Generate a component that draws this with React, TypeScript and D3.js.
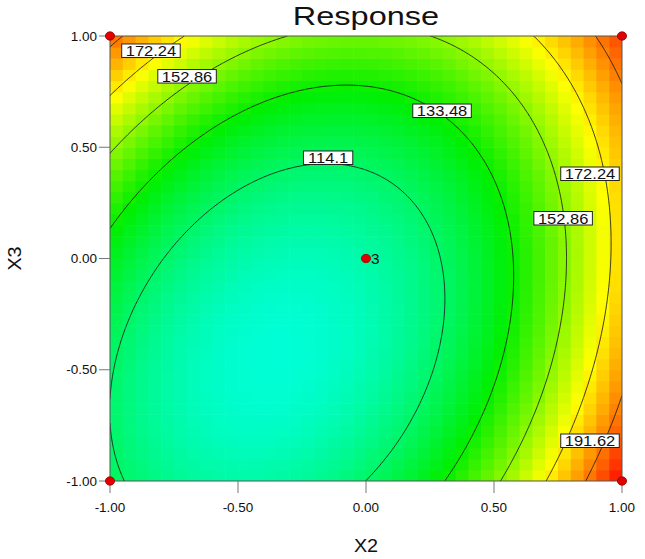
import React from "react";
import * as d3 from "d3";

// ---- data ----
const factorX = "X2";
const factorY = "X3";
const title = "Response";
const ticks = [-1, -0.5, 0, 0.5, 1];
// quadratic model coefficients: 1, X2, X3, X2*X3, X2^2, X3^2
const coefficients = [102.6, 25.0, 17.4, -22.3, 50.0, 29.0];
const contourLevels = [114.1, 133.48, 152.86, 172.24, 191.62];
const colorValues = [92, 132, 170, 210];
const colorRange = ["#00ffe4", "#00ef00", "#ffff00", "#ff0c00"];
const designPoints: [number, number][] = [[-1, -1], [1, -1], [-1, 1], [1, 1], [0, 0]];
const centerReplicates = "3";
// contour label anchors (X2, X3, level)
const labelAnchors: [number, number, number][] = [
  [-0.84, 0.935, 172.24],
  [-0.699, 0.82, 152.86],
  [0.297, 0.665, 133.48],
  [-0.148, 0.454, 114.1],
  [0.875, 0.382, 172.24],
  [0.77, 0.182, 152.86],
  [0.875, -0.818, 191.62],
];

function model(a: number, b: number) {
  const c = coefficients;
  return c[0] + c[1] * a + c[2] * b + c[3] * a * b + c[4] * a * a + c[5] * b * b;
}

const W = 645, H = 559;
const L = 110, R = 622, T = 36, B = 481;
const STRETCH = 1.18;

export default function App() {
  const x = d3.scaleLinear().domain([-1, 1]).range([L, R]);
  const y = d3.scaleLinear().domain([-1, 1]).range([B, T]);
  const color = d3.scaleLinear<string>().domain(colorValues).range(colorRange).clamp(true);

  // colored cells
  const cellsN = 40;
  const cells: { x0: number; y0: number; w: number; h: number; fill: string }[] = [];
  const step = 2 / cellsN;
  for (let i = 0; i < cellsN; i++) {
    for (let j = 0; j < cellsN; j++) {
      const a0 = -1 + i * step, b0 = -1 + j * step;
      const v = model(a0 + step / 2, b0 + step / 2);
      const px0 = x(a0), px1 = x(a0 + step);
      const py0 = y(b0 + step), py1 = y(b0);
      cells.push({ x0: px0, y0: py0, w: px1 - px0 + 0.6, h: py1 - py0 + 0.6, fill: color(v) });
    }
  }

  // contour lines
  const n = 201;
  const vals = new Array(n * n);
  for (let j = 0; j < n; j++) {
    for (let i = 0; i < n; i++) {
      const a = -1 + (2 * i) / (n - 1);
      const b = 1 - (2 * j) / (n - 1);
      vals[i + j * n] = model(a, b);
    }
  }
  const conts = d3.contours().size([n, n]).thresholds(contourLevels)(vals);
  const toPx = (p: number[]) => {
    const a = -1 + (2 * (p[0] - 0.5)) / (n - 1);
    const b = 1 - (2 * (p[1] - 0.5)) / (n - 1);
    return [x(a), y(b)];
  };
  const path = d3.geoPath();
  const contourPaths = conts.map((c) => {
    const geom = {
      type: "MultiPolygon",
      coordinates: c.coordinates.map((poly) => poly.map((ring) => ring.map(toPx))),
    } as any;
    return path(geom) || "";
  });

  const fmt = (t: number) => d3.format(".2f")(t).replace("\u2212", "-");
  const font = "'Liberation Sans', Arial, sans-serif";

  const labelWidth = (s: string) => {
    let w = 0;
    for (const ch of s) w += ch === "." ? 0.278 : 0.556;
    return w * 14 * STRETCH + 8;
  };

  return (
    <svg width={W} height={H} style={{ position: "absolute", left: 0, top: 0, display: "block" }} fontFamily={font}>
      <rect x={0} y={0} width={W} height={H} fill="#fff" />
      <defs>
        <clipPath id="plotclip">
          <rect x={L} y={T} width={R - L} height={B - T} />
        </clipPath>
      </defs>
      <g clipPath="url(#plotclip)">
        {cells.map((c, k) => (
          <rect key={k} x={c.x0} y={c.y0} width={c.w} height={c.h} fill={c.fill} />
        ))}
        {contourPaths.map((d, k) => (
          <path key={k} d={d} fill="none" stroke="#1a1a1a" strokeWidth={0.85} />
        ))}
      </g>
      <rect x={L} y={T} width={R - L} height={B - T} fill="none" stroke="#555" strokeWidth={1} />

      {/* labels */}
      {labelAnchors.map(([a, b, lv], k) => {
        const s = String(lv);
        const w = labelWidth(s);
        const cx = x(a), cy = y(b);
        return (
          <g key={k}>
            <rect x={cx - w / 2} y={cy - 6.5} width={w} height={13.5} fill="#fff" stroke="#222" strokeWidth={1} />
            <text transform={`translate(${cx},${cy + 5.5}) scale(${STRETCH},1)`} textAnchor="middle" fontSize={14} fill="#111">
              {s}
            </text>
          </g>
        );
      })}

      {/* axes ticks */}
      {ticks.map((t) => (
        <g key={"yt" + t}>
          <line x1={L - 11} x2={L} y1={y(t)} y2={y(t)} stroke="#777" strokeWidth={1} />
          <text transform={`translate(${L - 13},${y(t) + 4.5}) scale(1.08,1)`} textAnchor="end" fontSize={12.5} fill="#111">
            {fmt(t)}
          </text>
        </g>
      ))}
      {ticks.map((t) => (
        <g key={"xt" + t}>
          <line x1={x(t)} x2={x(t)} y1={B} y2={B + 12} stroke="#777" strokeWidth={1} />
          <text transform={`translate(${x(t)},${B + 31}) scale(1.08,1)`} textAnchor="middle" fontSize={12.5} fill="#111">
            {fmt(t)}
          </text>
        </g>
      ))}

      {/* design points */}
      {designPoints.map(([a, b], k) => (
        <ellipse key={k} cx={x(a)} cy={y(b)} rx={4.6} ry={4.2} fill="#e00000" stroke="#900" strokeWidth={0.8} />
      ))}
      <text transform={`translate(${x(0) + 5},${y(0) + 5}) scale(1.1,1)`} fontSize={14} fill="#111">
        {centerReplicates}
      </text>

      {/* titles */}
      <text transform={`translate(${(L + R) / 2},25) scale(1.25,1)`} textAnchor="middle" fontSize={26} fill="#111">
        {title}
      </text>
      <text transform={`translate(${(L + R) / 2},552) scale(1.1,1)`} textAnchor="middle" fontSize={18} fill="#111">
        {factorX}
      </text>
      <text transform={`translate(21,${(T + B) / 2}) rotate(-90) scale(1.1,1)`} textAnchor="middle" fontSize={18} fill="#111">
        {factorY}
      </text>
    </svg>
  );
}
